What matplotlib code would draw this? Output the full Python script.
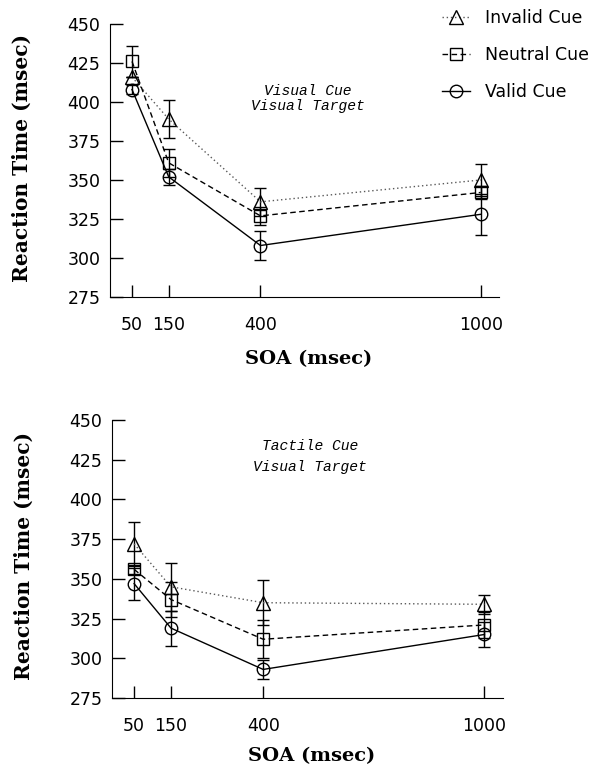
import matplotlib
matplotlib.use("Agg")
import matplotlib.pyplot as plt
from matplotlib.lines import Line2D

soa = [50, 150, 400, 1000]
soa_labels = ["50", "150", "400", "1000"]
yticks = [275, 300, 325, 350, 375, 400, 425, 450]

# top panel: visual cue / visual target
vis_invalid = [416, 389, 336, 350]
vis_invalid_err = [0, 12, 9, 10]
vis_neutral = [426, 361, 327, 342]
vis_neutral_err = [10, 9, 6, 4]
vis_valid = [408, 352, 308, 328]
vis_valid_err = [3, 5, 9, 13]

# bottom panel: tactile cue / visual target
tac_invalid = [372, 345, 335, 334]
tac_invalid_err = [14, 15, 14, 6]
tac_neutral = [356, 337, 312, 321]
tac_neutral_err = [3, 11, 12, 8]
tac_valid = [347, 319, 293, 315]
tac_valid_err = [10, 11, 6, 8]

labels = ["Invalid Cue", "Neutral Cue", "Valid Cue"]

tick_font = {"family": "DejaVu Sans", "size": 12.5}
ylabel_font = {"family": "DejaVu Serif", "weight": "bold", "size": 14.5}
xlabel_font = {"family": "DejaVu Serif", "weight": "bold", "size": 14}
note_font = {"family": "Liberation Mono", "style": "italic", "size": 10.5}

styles = [
    dict(ls=(0, (1, 2)), color="0.35", marker="^", ms=10),
    dict(ls=(0, (4, 2.5)), color="black", marker="s", ms=8.5),
    dict(ls="-", color="black", marker="o", ms=9),
]


def draw_panel(ax, series, note, note_y, spacing, xlab_y):
    for (y, e), st in zip(series, styles):
        ax.errorbar(soa, y, yerr=e, fmt="none", ecolor="black", elinewidth=1,
                    capsize=4, capthick=1)
        ax.plot(soa, y, linestyle=st["ls"], color=st["color"], lw=1,
                marker=st["marker"], ms=st["ms"], mfc="none", mec="black", mew=1)
    ax.set_xlim(-10, 1050)
    ax.set_ylim(275, 450)
    ax.set_xticks(soa)
    ax.set_xticklabels(soa_labels, fontdict=tick_font)
    ax.set_yticks(yticks)
    ax.set_yticklabels([str(t) for t in yticks], fontdict=tick_font)
    ax.tick_params(axis="both", direction="in", length=9, width=1)
    ax.tick_params(axis="x", pad=14)
    ax.tick_params(axis="y", pad=7)
    ax.spines["top"].set_visible(False)
    ax.spines["right"].set_visible(False)
    ax.set_xlabel("SOA (msec)", fontdict=xlabel_font)
    ax.set_ylabel("Reaction Time (msec)", fontdict=ylabel_font)
    ax.xaxis.set_label_coords(0.51, xlab_y)
    ax.yaxis.set_label_coords(-0.2, 0.51)
    ax.text(528, note_y, note, ha="center", va="center", linespacing=spacing,
            fontdict=note_font)


fig = plt.figure(figsize=(6.06, 7.69), dpi=100)
ax1 = fig.add_axes([0.1815, 0.6138, 0.642, 0.355])
ax2 = fig.add_axes([0.1848, 0.0923, 0.645, 0.3615])

draw_panel(ax1, [(vis_invalid, vis_invalid_err), (vis_neutral, vis_neutral_err),
                 (vis_valid, vis_valid_err)], "Visual Cue\nVisual Target", 402, 1.1, -0.195)
draw_panel(ax2, [(tac_invalid, tac_invalid_err), (tac_neutral, tac_neutral_err),
                 (tac_valid, tac_valid_err)], "Tactile Cue\nVisual Target", 427, 1.6, -0.177)

handles = [Line2D([], [], linestyle=st["ls"], color=st["color"], lw=1,
                  marker=st["marker"], ms=st["ms"], mfc="none", mec="black", mew=1)
           for st in styles]
fig.legend(handles, labels, loc="upper left", bbox_to_anchor=(442 / 606, 1 - 9 / 769),
           frameon=False, borderpad=0, borderaxespad=0, handlelength=1.6,
           handletextpad=0.9, labelspacing=1.1,
           prop={"family": "DejaVu Sans", "size": 12.5})

fig.savefig("out.png", dpi=100)
